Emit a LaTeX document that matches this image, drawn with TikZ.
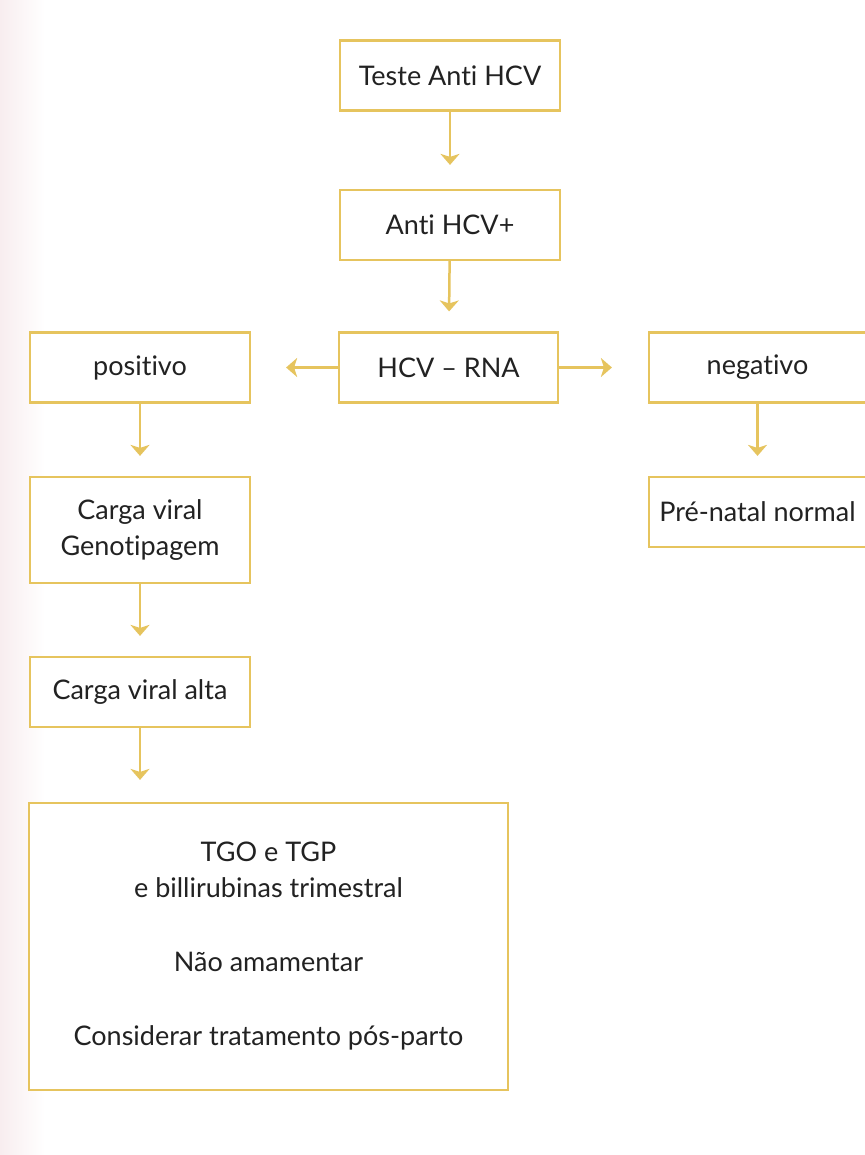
\documentclass[tikz,border=0pt]{standalone}
\usepackage{fontspec}
\setmainfont{Lato}[Ligatures={NoCommon,NoRequired,NoContextual}]
\usetikzlibrary{arrows.meta}
\definecolor{gold}{HTML}{E6C45E}
\definecolor{ink}{HTML}{222222}
\definecolor{paperpink}{HTML}{F8EDEF}
\begin{document}
\begin{tikzpicture}[x=1pt,y=-1pt,
  box/.style={draw=gold,line width=2.2pt,fill=white,rectangle,
    minimum width=220pt,minimum height=70pt,inner sep=0pt,
    text=ink,font=\fontsize{27}{36}\selectfont,align=center},
  link/.style={draw=gold,line width=2.5pt,
    -{Stealth[width=19pt,length=11pt,inset=3pt]}}]
  % page
  \useasboundingbox (0,0) rectangle (864,1155);
  \fill[white] (0,0) rectangle (864,1155);
  \shade[left color=paperpink,right color=white] (0,0) rectangle (45,1155);
  % boxes
  \node[box] (teste) at (450,75.5) {Teste Anti HCV};
  \node[box] (anti) at (450,225) {Anti HCV+};
  \node[box,minimum width=219pt] (rna) at (448.5,367.5) {HCV -- RNA};
  \node[box] (pos) at (140,367.5) {positivo};
  \node[box,minimum width=217pt] (neg) at (757.5,367.5) {negativo};
  \node[box,minimum width=217pt] (pre) at (757.5,512) {Pré-natal normal};
  \node[box,minimum height=106pt] (geno) at (140,530) {Carga viral\\Genotipagem};
  \node[box] (alta) at (140,692) {Carga viral alta};
  \node[box,minimum width=479pt,minimum height=287pt] (plan) at (268.5,946.5)
    {TGO e TGP\\e billirubinas trimestral\\[38pt]Não amamentar\\[38pt]Considerar tratamento pós-parto};
  % connectors
  \draw[link,shorten >=24pt] (teste) -- (anti);
  \draw[link,shorten >=20pt] (anti) -- (rna);
  \draw[link,shorten >=35pt] (rna) -- (pos);
  \draw[link,shorten >=36pt] (rna) -- (neg);
  \draw[link,shorten >=20pt] (neg) -- (pre);
  \draw[link,shorten >=20pt] (pos) -- (geno);
  \draw[link,shorten >=20pt] (geno) -- (alta);
  \draw[link,shorten >=22pt] (alta.south) -- (alta.south |- plan.north);
\end{tikzpicture}
\end{document}
